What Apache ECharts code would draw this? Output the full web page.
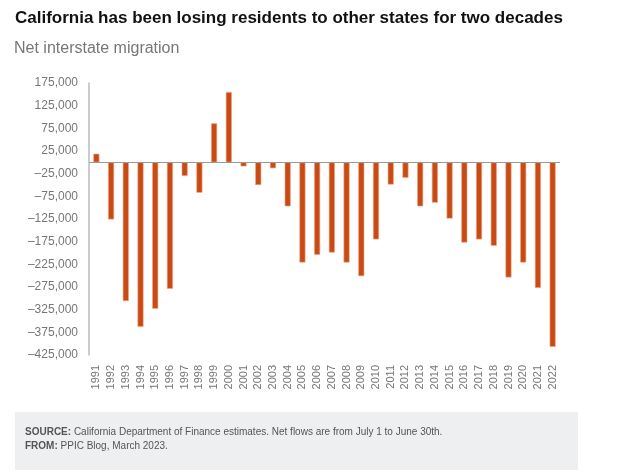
<!DOCTYPE html>
<html>
<head>
<meta charset="utf-8">
<script src="https://cdn.jsdelivr.net/npm/echarts@6/dist/echarts.min.js"></script>
<style>
  html, body { margin: 0; padding: 0; background: #fff; }
  #chart { width: 640px; height: 476px; }
</style>
</head>
<body>
<div id="chart"></div>
<script>
const years = [
  '1991', '1992', '1993', '1994', '1995', '1996', '1997', '1998', '1999', '2000',
  '2001', '2002', '2003', '2004', '2005', '2006', '2007', '2008', '2009', '2010',
  '2011', '2012', '2013', '2014', '2015', '2016', '2017', '2018', '2019', '2020',
  '2021', '2022'
];

// net interstate migration, people
const netMigration = [
  19000, -126000, -306000, -363000, -323000, -279000, -30000, -67000, 86000, 155000,
  -9000, -50000, -13000, -97000, -221000, -204000, -199000, -221000, -251000, -170000,
  -49000, -34000, -97000, -89000, -124000, -177000, -170000, -184000, -254000, -221000,
  -277000, -407000
];

const yMin = -425000;
const yMax = 175000;
const yStep = 50000;

function fmt(v) {
  const s = Math.abs(v).toString().replace(/\B(?=(\d{3})+(?!\d))/g, ',');
  return v < 0 ? '\u2013' + s : s;
}

const chart = echarts.init(document.getElementById('chart'));

chart.setOption({
  animation: false,
  textStyle: { fontFamily: 'Liberation Sans, Arial, sans-serif' },
  title: [
    {
      text: 'California has been losing residents to other states for two decades',
      left: 10,
      top: 5,
      textStyle: { fontSize: 17, fontWeight: 'bold', color: '#111' }
    },
    {
      text: 'Net interstate migration',
      left: 9,
      top: 36,
      textStyle: { fontSize: 16, fontWeight: 'normal', color: '#777' }
    }
  ],
  grid: { left: 89, right: 80, top: 83, bottom: 121, containLabel: false },
  xAxis: {
    type: 'category',
    data: years,
    axisLine: { show: false, onZero: false },
    axisTick: { show: false },
    axisLabel: {
      rotate: 90,
      margin: 10,
      fontSize: 11,
      color: '#777',
      interval: 0
    }
  },
  yAxis: {
    type: 'value',
    min: yMin,
    max: yMax,
    interval: yStep,
    splitLine: { show: false },
    axisTick: { show: false },
    axisLine: { show: true, lineStyle: { color: '#bbb', width: 1.5 } },
    axisLabel: {
      fontSize: 12,
      color: '#777',
      margin: 11,
      formatter: fmt
    }
  },
  series: [
    {
      type: 'bar',
      data: netMigration,
      barWidth: 6,
      itemStyle: { color: '#c84b16', borderColor: '#f0a67f', borderWidth: 0.6 },
      markLine: {
        silent: true,
        symbol: 'none',
        label: { show: false },
        lineStyle: { color: '#999', width: 1, type: 'solid' },
        data: [{ yAxis: 0 }]
      }
    }
  ],
  graphic: [
    {
      type: 'rect',
      left: 15,
      top: 412,
      shape: { width: 563, height: 58 },
      style: { fill: '#eeeff1' }
    },
    {
      type: 'text',
      left: 25,
      top: 425,
      style: {
        text: '{b|SOURCE:} California Department of Finance estimates. Net flows are from July 1 to June 30th.\n{b|FROM:} PPIC Blog, March 2023.',
        fill: '#555',
        fontSize: 10,
        lineHeight: 14,
        fontFamily: 'Liberation Sans, Arial, sans-serif',
        rich: {
          b: { fontWeight: 'bold', fontSize: 10, fill: '#555', lineHeight: 14 }
        }
      }
    }
  ]
});
</script>
</body>
</html>
